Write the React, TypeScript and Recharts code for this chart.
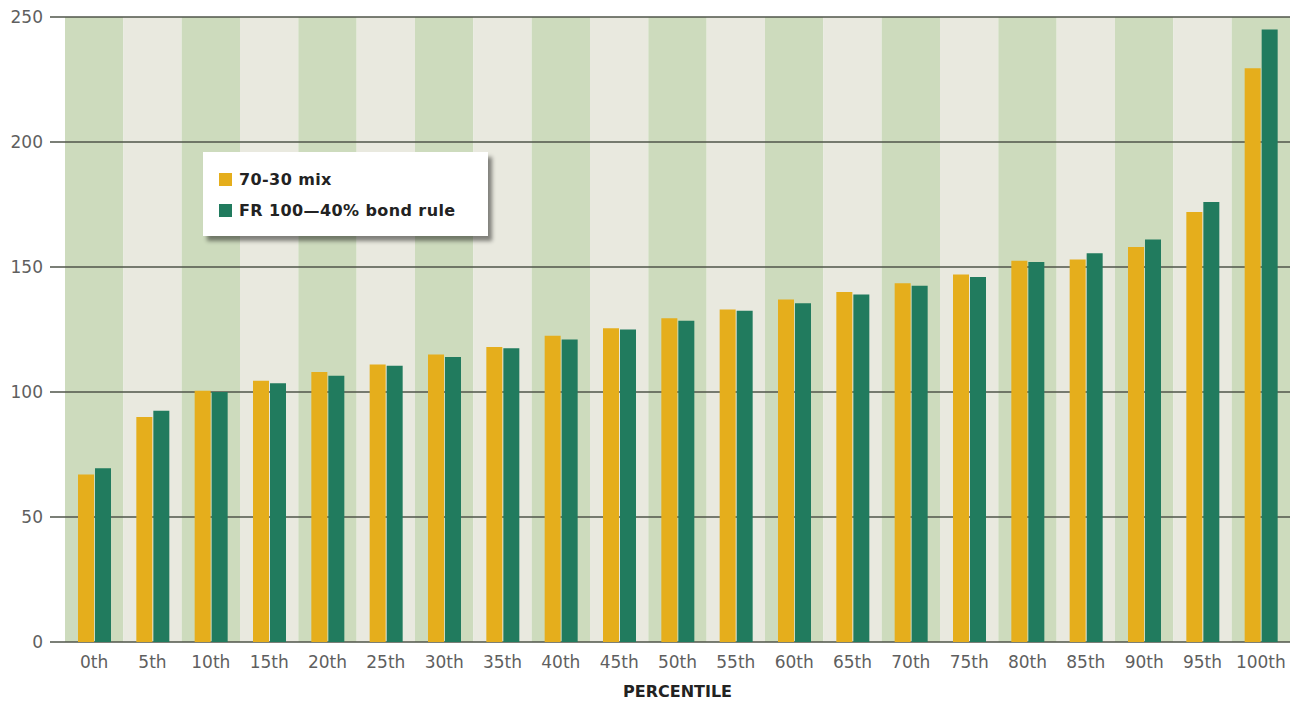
import React from "react";
import {
  BarChart,
  Bar,
  XAxis,
  YAxis,
  CartesianGrid,
  ReferenceArea,
  Legend,
} from "recharts";

const percentiles = [
  "0th", "5th", "10th", "15th", "20th", "25th", "30th", "35th", "40th", "45th",
  "50th", "55th", "60th", "65th", "70th", "75th", "80th", "85th", "90th", "95th", "100th",
];
const mix7030 = [
  67, 90, 100.5, 104.5, 108, 111, 115, 118, 122.5, 125.5,
  129.5, 133, 137, 140, 143.5, 147, 152.5, 153, 158, 172, 229.5,
];
const frBondRule = [
  69.5, 92.5, 100, 103.5, 106.5, 110.5, 114, 117.5, 121, 125,
  128.5, 132.5, 135.5, 139, 142.5, 146, 152, 155.5, 161, 176, 245,
];
const yTicks = [0, 50, 100, 150, 200, 250];

const YELLOW = "#e5ae1c";
const GREEN = "#217b5e";
const STRIPE_A = "#cddbbd";
const STRIPE_B = "#e9e9df";
const GRID = "#4f554a";
const FONT = "'DejaVu Sans', Verdana, sans-serif";

const rows = percentiles.map((p, i) => ({
  pct: p,
  mix: mix7030[i],
  fr: frBondRule[i],
}));

function LegendBox(props: any) {
  const items = props.payload || [];
  return (
    <div
      style={{
        background: "#fff",
        boxShadow: "4px 5px 4px rgba(0,0,0,0.45)",
        padding: "12px 0 10px 16px",
        fontFamily: FONT,
        fontWeight: "bold",
        fontSize: 16,
        letterSpacing: 0.4,
        color: "#222",
      }}
    >
      {items.map((it: any) => (
        <div
          key={it.value}
          style={{ display: "flex", alignItems: "center", height: 31 }}
        >
          <span
            style={{
              width: 13,
              height: 13,
              background: it.color,
              marginRight: 7,
              display: "inline-block",
            }}
          />
          {it.value}
        </div>
      ))}
    </div>
  );
}

export default function App() {
  return (
    <div style={{ position: "absolute", left: 0, top: 0, background: "#fff" }}>
      <BarChart
        width={1302}
        height={701}
        data={rows}
        margin={{ top: 17, right: 12, left: 0, bottom: 0 }}
        barSize={16}
        barGap={1}
      >
        {/* alternating column bands, kept below the grid lines */}
        {percentiles.map((p, i) => (
          <ReferenceArea
            key={p}
            x1={p}
            x2={p}
            fill={i % 2 === 0 ? STRIPE_A : STRIPE_B}
            fillOpacity={1}
            stroke="none"
            zIndex={-200}
          />
        ))}
        <CartesianGrid vertical={false} stroke={GRID} strokeWidth={1.5} />
        <XAxis
          dataKey="pct"
          height={59}
          axisLine={false}
          tickLine={false}
          tickSize={6}
          tickMargin={8}
          interval={0}
          tick={{ fill: "#5f5f5f", fontSize: 17, fontFamily: FONT }}
          label={{
            value: "PERCENTILE",
            position: "insideBottom",
            offset: 4,
            fill: "#222",
            fontSize: 16,
            fontWeight: "bold",
            fontFamily: FONT,
          }}
        />
        <YAxis
          width={65}
          domain={[0, 250]}
          ticks={yTicks}
          axisLine={false}
          tickLine={{ stroke: GRID, strokeWidth: 1.5 }}
          tickSize={15}
          tickMargin={7}
          tick={{ fill: "#5f5f5f", fontSize: 17, fontFamily: FONT }}
        />
        <Legend
          layout="horizontal"
          verticalAlign="middle"
          align="center"
          content={<LegendBox />}
          wrapperStyle={{ position: "absolute", left: 203, top: 152, width: 285 }}
        />
        <Bar dataKey="mix" name="70-30 mix" fill={YELLOW} isAnimationActive={false} />
        <Bar dataKey="fr" name="FR 100—40% bond rule" fill={GREEN} isAnimationActive={false} />
      </BarChart>
    </div>
  );
}
